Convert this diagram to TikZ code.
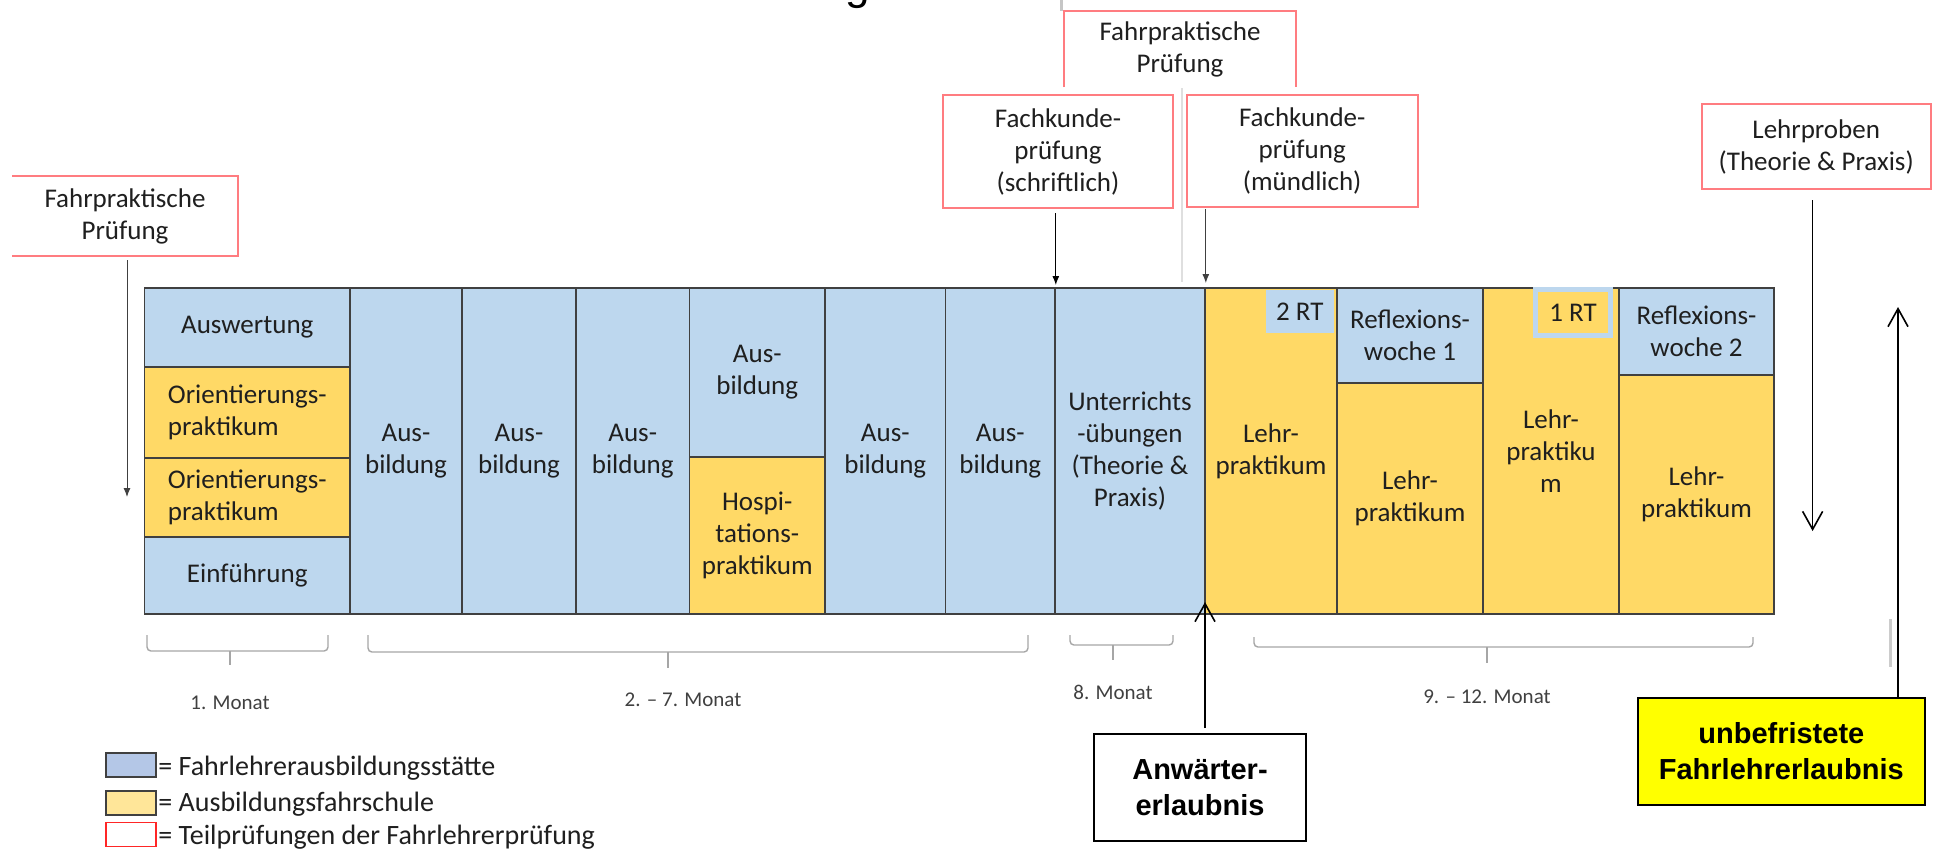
\documentclass[tikz,border=0pt]{standalone}
\usepackage{fontspec}
\setmainfont{Carlito}
\newfontfamily\arialfont{Liberation Sans}
\usetikzlibrary{arrows.meta}
\definecolor{cblue}{HTML}{BDD7EE}
\definecolor{cyellow}{HTML}{FFD966}
\definecolor{cborder}{HTML}{404040}
\definecolor{cred}{HTML}{FF7C80}
\definecolor{cgray}{HTML}{A6A6A6}
\definecolor{ctext}{HTML}{1F1F1F}
\definecolor{lblue}{HTML}{B4C7E7}
\definecolor{lyellow}{HTML}{FFE699}
\definecolor{cyelbright}{HTML}{FFFF00}
\newcommand{\cellfnt}{\fontsize{13.5}{16}\selectfont}
\newcommand{\monthfnt}{\fontsize{10.5}{12}\selectfont}
\newcommand{\legfnt}{\fontsize{14}{16}\selectfont}
\newcommand{\cellbox}[7]{%
  \pgfmathsetmacro{\cbW}{(#4-#2)*0.5}%
  \pgfmathsetmacro{\cbH}{(#5-#3)*0.5}%
  \node[#6, minimum width=\cbW pt, minimum height=\cbH pt] (#1) at ({(#2+#4)/2},{(#3+#5)/2}) {#7};}
\newcommand{\mbrace}[6]{%
  \draw[monthbrace] (#1,#3) -- (#1,#4) -- (#2,#4) -- (#2,#3);
  \draw[monthbrace] (#5,#4) -- (#5,#6);}
\begin{document}
\begin{tikzpicture}[x=0.5pt,y=-0.5pt,
  cellb/.style={draw=cborder, fill=cblue, line width=0.8pt, inner sep=0pt, outer sep=0pt, align=center, font=\cellfnt, text=ctext},
  celly/.style={cellb, fill=cyellow},
  redbox/.style={draw=cred, line width=1pt, fill=white, align=center, font=\cellfnt, text=ctext, inner sep=0pt, outer sep=0pt},
  redtext/.style={align=center, font=\cellfnt, text=ctext, inner sep=0pt, outer sep=0pt},
  redline/.style={draw=cred, line width=1pt},
  monthbrace/.style={draw=cgray, line width=0.7pt, rounded corners=2pt},
  monthlabel/.style={font=\monthfnt, text=cborder, inner sep=0pt},
  smallarrow/.style={-{Latex[length=4.5pt,width=3.5pt]}, line width=0.5pt},
  openarrow/.style={-{Straight Barb[length=9pt,width=10pt]}, line width=0.8pt, draw=black},
  permitbox/.style={draw=black, line width=1pt, align=center, inner sep=0pt, outer sep=0pt, font=\arialfont\bfseries\fontsize{14.5}{18}\selectfont},
  legtext/.style={font=\legfnt, text=ctext, anchor=base west, inner sep=0pt},
  swatch/.style={draw=cborder, line width=0.7pt, minimum width=25pt, minimum height=12pt, inner sep=0pt}
]
\fill[white] (0,0) rectangle (1936,848);
\useasboundingbox (0,0) rectangle (1936,848);

% cut-off title fragment and top line
\node[font={\arialfont\fontsize{22}{26}\selectfont}, anchor=base, inner sep=0pt] (ttl) at (858,-1) {g};
\draw[line width=1.5pt, draw=gray!45] (1061,0) -- (1061,11);
\draw[line width=0.6pt, draw=gray!25] (1182,88) -- (1182,282);

% main band
\cellbox{c1a}{144.5}{288}{350}{366.7}{cellb}{Auswertung}
\cellbox{c1b}{144.5}{366.7}{350}{458}{celly,align=left}{Orientierungs-\\praktikum}
\cellbox{c1c}{144.5}{458}{350}{536.7}{celly,align=left}{Orientierungs-\\praktikum}
\cellbox{c1d}{144.5}{536.7}{350}{614}{cellb}{Einführung}
\cellbox{c2}{350}{288}{462}{614}{cellb}{Aus-\\bildung}
\cellbox{c3}{462}{288}{576}{614}{cellb}{Aus-\\bildung}
\cellbox{c4}{576}{288}{689.5}{614}{cellb}{Aus-\\bildung}
\cellbox{c5a}{689.5}{288}{825}{457}{cellb}{Aus-\\bildung}
\cellbox{c5b}{689.5}{457}{825}{614}{celly}{Hospi-\\tations-\\praktikum}
\cellbox{c6}{825}{288}{945.6}{614}{cellb}{Aus-\\bildung}
\cellbox{c7}{945.6}{288}{1055}{614}{cellb}{Aus-\\bildung}
\cellbox{c8}{1055}{288}{1205}{614}{cellb}{Unterrichts\\-übungen\\(Theorie \&\\Praxis)}
\cellbox{c9}{1205}{288}{1337}{614}{celly}{Lehr-\\praktikum}
\cellbox{c10a}{1337}{288}{1483}{383}{cellb}{Reflexions-\\woche 1}
\cellbox{c10b}{1337}{383}{1483}{614}{celly}{Lehr-\\praktikum}
\cellbox{c11}{1483}{288}{1619}{614}{celly}{Lehr-\\praktiku\\m}
\cellbox{c12a}{1619}{288}{1774}{375}{cellb}{Reflexions-\\woche 2}
\cellbox{c12b}{1619}{375}{1774}{614}{celly}{Lehr-\\praktikum}

% RT boxes
\cellbox{rt2}{1265.5}{289.5}{1334}{333}{cellb,draw=none}{2 RT}
\node[draw=cblue, line width=2.75pt, fill=cyellow, minimum width=37.6pt, minimum height=22.9pt, inner sep=0pt, font=\cellfnt, text=ctext] (rt1) at (1573,312.6) {1 RT};

% exam boxes
\node[redtext, minimum width=113pt, minimum height=40pt] (fp1) at (125,216) {Fahrpraktische\\Prüfung};
\draw[redline] (fp1.north west) -- (fp1.north east) -- (fp1.south east) -- (fp1.south west);
\node[redtext, minimum width=116pt, minimum height=38pt] (fp2) at (1180,49) {Fahrpraktische\\Prüfung};
\draw[redline] (fp2.south west) -- (fp2.north west) -- (fp2.north east) -- (fp2.south east);
\node[redbox, minimum width=115pt, minimum height=56.5pt] (fks) at (1058,151.5) {Fachkunde-\\prüfung\\(schriftlich)};
\node[redbox, minimum width=115.6pt, minimum height=56pt] (fkm) at (1302.2,151) {Fachkunde-\\prüfung\\(mündlich)};
\node[redbox, minimum width=114.7pt, minimum height=42.5pt] (lp) at (1816.2,146.5) {Lehrproben\\(Theorie \& Praxis)};

% exam arrows
\coordinate (fp1tip) at (127,497);
\draw[smallarrow, draw=cborder, fill=cborder, shorten <=2pt] (fp1.south -| fp1tip) -- (fp1tip);
\coordinate (fkstip) at (1055.8,285);
\draw[smallarrow, draw=black, fill=black, shorten <=2.5pt] (fks.south -| fkstip) -- (fkstip);
\coordinate (fkmtip) at (1205.8,283);
\draw[smallarrow, draw=cborder, fill=cborder, shorten <=1pt] (fkm.south -| fkmtip) -- (fkmtip);
\coordinate (lptip) at (1812.6,531);
\draw[openarrow, shorten <=5.5pt] (lp.south -| lptip) -- (lptip);

% month braces
\mbrace{147}{328}{635}{651}{230}{665}
\mbrace{368}{1028}{635}{652}{668}{668}
\mbrace{1070}{1173}{635}{645}{1113}{660}
\mbrace{1254}{1753}{637}{647}{1487}{663}
\node[monthlabel] (m1) at (230,703) {1. Monat};
\node[monthlabel] (m2) at (683,700) {2. – 7. Monat};
\node[monthlabel] (m3) at (1113,692) {8. Monat};
\node[monthlabel] (m4) at (1487,697) {9. – 12. Monat};

% permits
\node[permitbox, fill=white, minimum width=106pt, minimum height=53.5pt] (anw) at (1200,787.5) {Anwärter-\\erlaubnis};
\node[permitbox, fill=cyelbright, minimum width=143.7pt, minimum height=53.5pt] (unb) at (1781.3,751.5) {unbefristete\\Fahrlehrerlaubnis};
\coordinate (anwtip) at (1205,602);
\draw[openarrow, shorten <=3pt] (anw.north -| anwtip) -- (anwtip);
\coordinate (unbtip) at (1898,307);
\draw[openarrow] (unb.north -| unbtip) -- (unbtip);
\draw[line width=1.5pt, draw=gray!40] (1890,619) -- (1890,667);

% legend
\node[swatch, fill=lblue] (lg1) at (131,765) {};
\node[swatch, fill=lyellow] (lg2) at (131,803) {};
\node[swatch, draw=red!85, fill=white] (lg3) at (131,834.5) {};
\node[legtext] (lt1) at (158,775) {= Fahrlehrerausbildungsstätte};
\node[legtext] (lt2) at (158,811) {= Ausbildungsfahrschule};
\node[legtext] (lt3) at (158,844) {= Teilprüfungen der Fahrlehrerprüfung};
\end{tikzpicture}
\end{document}
